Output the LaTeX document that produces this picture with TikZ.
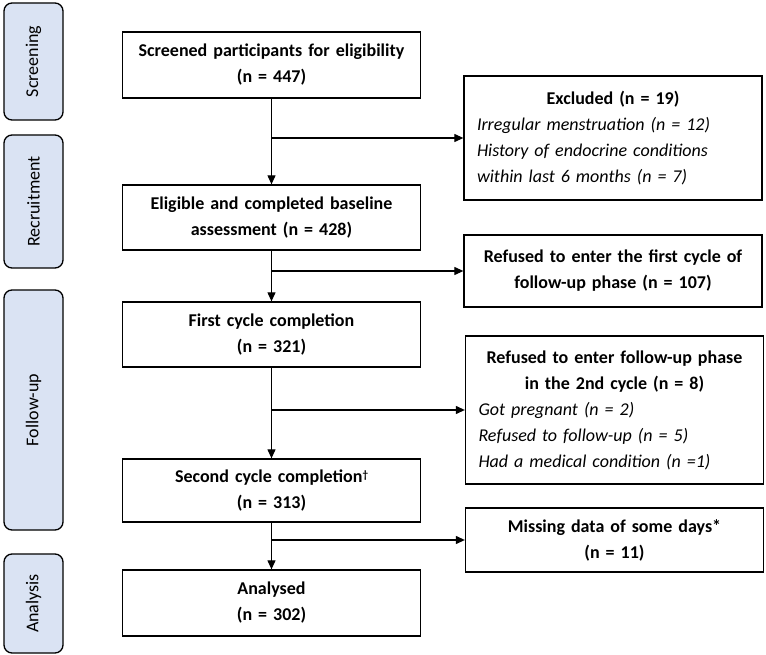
\documentclass[tikz,border=0pt]{standalone}
\usepackage{fontspec}
\setmainfont{Carlito}
\usetikzlibrary{arrows.meta,calc}
\definecolor{phasefill}{HTML}{DAE3F3}
\tikzset{
  phase/.style={draw=black, line width=1.3pt, rounded corners=8pt, fill=phasefill,
    minimum width=59pt, inner sep=0pt, font=\fontsize{18}{26}\selectfont},
  mainbox/.style={draw=black, line width=1.3pt, minimum width=298pt, text width=284pt,
    align=center, inner sep=0pt, font=\fontsize{18}{26}\selectfont\bfseries},
  sidebox/.style={draw=black, line width=1.3pt, minimum width=298pt, text width=272pt,
    align=left, inner sep=0pt, font=\fontsize{18}{26}\selectfont},
  arr/.style={line width=1.1pt, -{Triangle[length=9pt,width=8pt]}},
  ln/.style={line width=1.1pt}
}
\newcommand{\ctr}[1]{\makebox[\linewidth][c]{\bfseries #1}}
\begin{document}
\begin{tikzpicture}[x=1pt,y=-1pt]
\useasboundingbox (0,0) rectangle (766,655);
% phases
\node[phase, minimum height=117pt] (ph1) at (33.5,61.5) {\rotatebox{90}{Screening}};
\node[phase, minimum height=133pt] (ph2) at (33.5,201.5) {\rotatebox{90}{Recruitment}};
\node[phase, minimum height=240pt] (ph3) at (33.5,410) {\rotatebox{90}{Follow-up}};
\node[phase, minimum height=99pt] (ph4) at (33.5,603.5) {\rotatebox{90}{Analysis}};
% main boxes
\node[mainbox, minimum height=66pt] (scr) at (271.5,65) {Screened participants for eligibility\\(n = 447)};
\node[mainbox, minimum height=65pt] (elig) at (271.5,217.5) {Eligible and completed baseline\\assessment (n = 428)};
\node[mainbox, minimum height=65pt] (first) at (271.5,334.5) {First cycle completion\\(n = 321)};
\node[mainbox, minimum height=63pt] (second) at (271.5,490.5) {Second cycle completion{\fontsize{11}{11}\selectfont\raisebox{4pt}{†}}\\(n = 313)};
\node[mainbox, minimum height=66pt] (anal) at (271.5,603) {Analysed\\(n = 302)};
% side boxes
\node[sidebox, minimum height=124pt] (excl) at (613,138) {\ctr{Excluded (n = 19)}\\\itshape Irregular menstruation (n = 12)\\\itshape History of endocrine conditions\\\itshape within last 6 months (n = 7)};
\node[mainbox, minimum height=72pt] (ref1) at (613,271) {Refused to enter the first cycle of\\follow-up phase (n = 107)};
\node[sidebox, minimum height=148pt] (ref2) at (614.5,410) {\ctr{Refused to enter follow-up phase}\\\ctr{in the 2nd cycle (n = 8)}\\\itshape Got pregnant (n = 2)\\\itshape Refused to follow-up (n = 5)\\\itshape Had a medical condition (n =1)};
\node[mainbox, minimum height=64pt] (miss) at (614.5,540) {Missing data of some days*\\(n = 11)};
% vertical arrows
\draw[arr] (scr.south) -- (elig.north);
\draw[arr] (elig.south) -- (first.north);
\draw[arr] (first.south) -- (second.north);
\draw[arr] (second.south) -- (anal.north);
% branches
\draw[arr] (scr.south |- excl.west) -- (excl.west);
\draw[arr] (elig.south |- ref1.west) -- (ref1.west);
\draw[arr] (first.south |- ref2.west) -- (ref2.west);
\draw[arr] (second.south |- miss.west) -- (miss.west);
\end{tikzpicture}
\end{document}
